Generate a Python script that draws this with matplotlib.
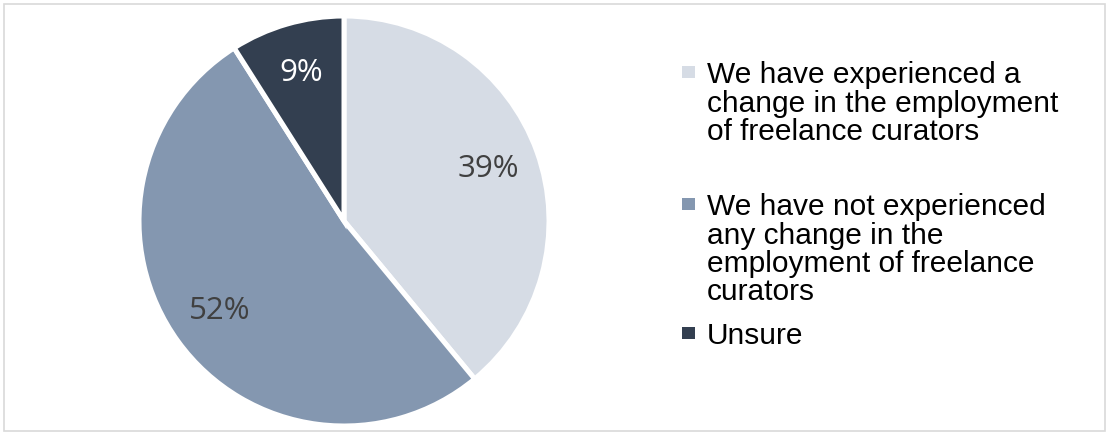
import matplotlib.pyplot as plt
from matplotlib.patches import Rectangle

# survey answers, clockwise from 12 o'clock
labels = [
    "We have experienced a\nchange in the employment\nof freelance curators",
    "We have not experienced\nany change in the\nemployment of freelance\ncurators",
    "Unsure",
]
shares = [39, 52, 9]
colors = ["#D6DCE5", "#8497B0", "#333F50"]
pct_colors = ["#404040", "#404040", "#FFFFFF"]

W, H = 1109, 434
fig = plt.figure(figsize=(W / 100, H / 100), dpi=100)

# pie axes placed by pixel box (centre 344,221, radius ~205)
cx, cy, r = 344, 221, 205
ax = fig.add_axes([(cx - r) / W, (H - cy - r) / H, 2 * r / W, 2 * r / H])
wedges, _, autotexts = ax.pie(
    shares, colors=colors, startangle=90, counterclock=False,
    autopct="%1.0f%%", pctdistance=0.75,
    wedgeprops=dict(edgecolor="white", linewidth=3.6),
)
for t, c in zip(autotexts, pct_colors):
    t.set_color(c)
    t.set_fontsize(22.5)
    t.set_fontfamily("Open Sans")
ax.set_xlim(-1, 1)
ax.set_ylim(-1, 1)
ax.set_aspect("equal")
ax.axis("off")

# legend drawn by hand: square marker + wrapped text
line_h = 28.5
first_baselines = [83, 215, 344]
for lab, col, y0 in zip(labels, colors, first_baselines):
    fig.patches.append(Rectangle((682 / W, (H - y0 + 5) / H), 13 / W, 12 / H,
                                 transform=fig.transFigure, facecolor=col,
                                 edgecolor="none"))
    for i, line in enumerate(lab.split("\n")):
        fig.text(707 / W, (H - (y0 + i * line_h)) / H, line,
                 fontsize=21.5, family="Liberation Sans", color="black",
                 va="baseline", ha="left")

# thin frame round the chart area
fig.patches.append(Rectangle((4 / W, 3 / H), (W - 8) / W, (H - 7) / H,
                             transform=fig.transFigure, facecolor="none",
                             edgecolor="#D9D9D9", linewidth=1.2))

fig.savefig("out.png", dpi=100)
